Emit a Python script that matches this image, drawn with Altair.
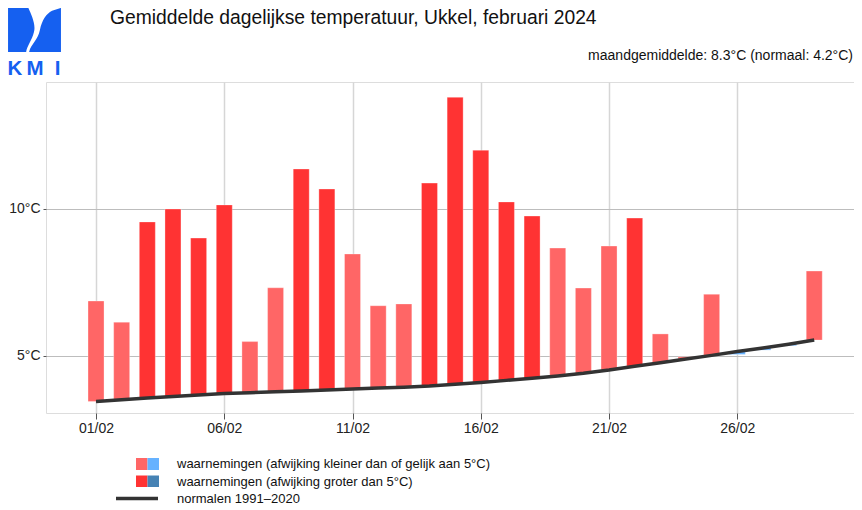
import altair as alt
import pandas as pd

# ---- data ----
days = list(range(1, 30))
observed = [6.87, 6.15, 9.56, 10.00, 9.01, 10.14, 5.49, 7.32, 11.36, 10.68,
            8.47, 6.71, 6.77, 10.88, 13.80, 12.00, 10.24, 9.76, 8.67, 7.31,
            8.74, 9.69, 5.75, 4.97, 7.10, 5.05, 5.20, 5.35, 7.89]
normals = [3.45, 3.51, 3.57, 3.62, 3.67, 3.72, 3.75, 3.78, 3.81, 3.84,
           3.88, 3.91, 3.94, 3.98, 4.04, 4.10, 4.17, 4.24, 4.32, 4.41,
           4.52, 4.65, 4.77, 4.90, 5.02, 5.15, 5.27, 5.40, 5.54]
tick_days = [1, 6, 11, 16, 21, 26]
y_ticks = [5, 10]

title_text = "Gemiddelde dagelijkse temperatuur, Ukkel, februari 2024"
subtitle_text = "maandgemiddelde: 8.3°C (normaal: 4.2°C)"
legend_labels = [
    "waarnemingen (afwijking kleiner dan of gelijk aan 5°C)",
    "waarnemingen (afwijking groter dan 5°C)",
    "normalen 1991\u20132020",
]

cats = ["warm_small", "warm_big", "cold_small", "cold_big"]
cat_colors = ["#FF6666", "#FF3333", "#66B2FF", "#4682B4"]


def classify(o, n):
    d = o - n
    side = "warm" if d >= 0 else "cold"
    size = "big" if abs(d) > 5 else "small"
    return f"{side}_{size}"


df = pd.DataFrame({"day": days, "obs": observed, "normal": normals})
df["cat"] = [classify(o, n) for o, n in zip(observed, normals)]

FONT = "Liberation Sans"

x_scale = alt.Scale(domain=[-0.95, 30.55], nice=False, zero=False, padding=0)
x_enc = alt.X(
    "day:Q",
    scale=x_scale,
    axis=alt.Axis(
        values=tick_days,
        labelExpr="(datum.value < 10 ? '0' : '') + datum.value + '/02'",
        grid=True, gridColor="#d6d6d6", gridWidth=1.5,
        domain=False, ticks=True, tickColor="#555555", tickSize=6, tickWidth=1,
        labelFontSize=14, labelFont=FONT, labelColor="#222222", labelPadding=2,
        title=None,
    ),
)
y_scale = alt.Scale(domain=[3.06, 14.32], nice=False, zero=False, padding=0)

bars = alt.Chart(df).mark_bar(size=16, stroke="white", strokeWidth=1, strokeOpacity=0.3).encode(
    x=x_enc,
    y=alt.Y(
        "obs:Q", scale=y_scale,
        axis=alt.Axis(
            values=y_ticks, labelExpr="datum.value + '°C'",
            grid=True, gridColor="#bdbdbd", gridWidth=1,
            domain=False, tickColor="#555555", tickSize=3,
            labelFontSize=14, labelFont=FONT, labelColor="#222222", labelPadding=3,
            title=None,
        ),
    ),
    y2="normal:Q",
    color=alt.Color("cat:N", scale=alt.Scale(domain=cats, range=cat_colors), legend=None),
)

line = alt.Chart(df).mark_line(color="#333333", strokeWidth=3.5).encode(
    x="day:Q", y=alt.Y("normal:Q", scale=y_scale)
)

one = alt.Data(values=[{"a": 1}])

title = alt.Chart(one).mark_text(
    text=title_text, font=FONT, fontSize=19.3, align="left", baseline="alphabetic", color="#111111"
).encode(x=alt.value(64), y=alt.value(-58.5))

subtitle = alt.Chart(one).mark_text(
    text=subtitle_text, font=FONT, fontSize=14, align="right", baseline="alphabetic", color="#111111"
).encode(x=alt.value(807), y=alt.value(-22))

# KMI logo (decoration)
logo_path = (
    "M -0.98 -0.83 L -0.24 -0.83 C -0.13 -0.57 0.06 -0.20 -0.02 0.09 "
    "C -0.09 0.39 -0.28 0.61 -0.31 0.83 L -0.98 0.83 Z "
    "M 0.65 -0.69 L 0.98 -0.80 L 0.98 0.83 L -0.20 0.83 "
    "C -0.13 0.54 0.13 0.39 0.20 0.02 C 0.28 -0.35 0.43 -0.57 0.65 -0.69 Z"
)
logo = alt.Chart(one).mark_point(
    shape=logo_path, filled=True, color="#1560F0", opacity=1, size=2916, strokeWidth=0
).encode(x=alt.value(-11.5), y=alt.value(-52.5))

kmi_layers = []
for letter, lx in [("K", -31), ("M", -11), ("I", 11.5)]:
    kmi_layers.append(
        alt.Chart(one).mark_text(
            text=letter, font=FONT, fontSize=20.5, fontWeight="bold", align="center",
            baseline="alphabetic", color="#1560F0"
        ).encode(x=alt.value(lx), y=alt.value(-7.5))
    )

# legend
sw = []
sw.append(alt.Chart(one).mark_rect(color="#FF6666").encode(
    x=alt.value(90), x2=alt.value(101.5), y=alt.value(376), y2=alt.value(388)))
sw.append(alt.Chart(one).mark_rect(color="#66B2FF").encode(
    x=alt.value(101.5), x2=alt.value(113), y=alt.value(376), y2=alt.value(388)))
sw.append(alt.Chart(one).mark_rect(color="#FF3333").encode(
    x=alt.value(90), x2=alt.value(101.5), y=alt.value(393.5), y2=alt.value(405)))
sw.append(alt.Chart(one).mark_rect(color="#4682B4").encode(
    x=alt.value(101.5), x2=alt.value(113), y=alt.value(393.5), y2=alt.value(405)))
sw.append(alt.Chart(one).mark_rule(color="#333333", strokeWidth=3.5).encode(
    x=alt.value(70), x2=alt.value(112), y=alt.value(416.5)))
for lab, ly in zip(legend_labels, [382, 399.5, 416.5]):
    sw.append(alt.Chart(one).mark_text(
        text=lab, font=FONT, fontSize=13, align="left", baseline="middle", color="#111111"
    ).encode(x=alt.value(131), y=alt.value(ly)))

chart = alt.layer(bars, line, title, subtitle, logo, *kmi_layers, *sw).properties(
    width=808, height=331,
    autosize=alt.AutoSizeParams(type="none"),
    padding={"left": 38, "top": 74, "right": 0, "bottom": 97},
).configure_view(stroke=None).configure(background="white")

chart.save("out.html", embed_options={"renderer": "svg", "actions": False})
